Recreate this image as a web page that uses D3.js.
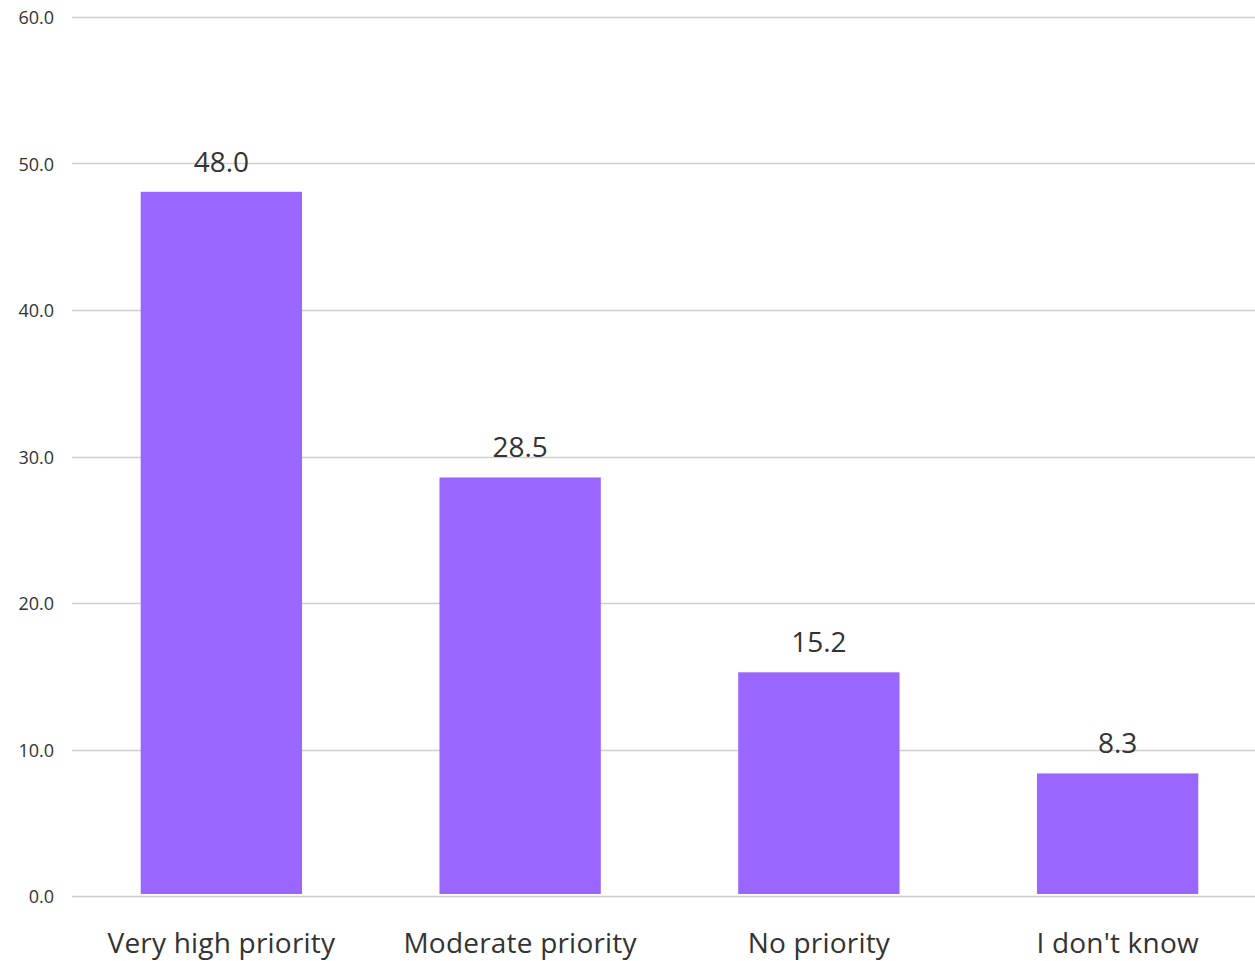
<!DOCTYPE html>
<html>
<head>
<meta charset="utf-8">
<script src="https://cdn.jsdelivr.net/npm/d3@7"></script>
<style>
  html, body { margin: 0; padding: 0; background: #fff; }
  svg { display: block; font-family: "Open Sans", "Noto Sans", sans-serif; }
</style>
</head>
<body>
<svg id="chart" width="1255" height="961"></svg>
<script>
const categories = ["Very high priority", "Moderate priority", "No priority", "I don't know"];
const values = [48.0, 28.5, 15.2, 8.3];
const valueLabels = ["48.0", "28.5", "15.2", "8.3"];
const yTicks = [0, 10, 20, 30, 40, 50, 60];

const svg = d3.select("#chart");
const plotLeft = 72, plotRight = 1267, plotTop = 17, plotBottom = 896;

const x = d3.scaleBand().domain(categories).range([plotLeft, plotRight])
  .paddingInner(0.46).paddingOuter(0.23);
const y = d3.scaleLinear().domain([0, 60]).range([plotBottom, plotTop]);

// gridlines
svg.append("g").selectAll("line").data(yTicks).join("line")
  .attr("x1", plotLeft).attr("x2", 1255)
  .attr("y1", d => Math.round(y(d)) + 0.5).attr("y2", d => Math.round(y(d)) + 0.5)
  .attr("stroke", "#cfcfcf").attr("stroke-width", 1.5);

// y tick labels
svg.append("g").selectAll("text").data(yTicks).join("text")
  .attr("x", 54).attr("y", d => y(d) + 1).attr("dy", "0.35em")
  .attr("text-anchor", "end").attr("font-size", 18).attr("fill", "#333")
  .text(d => d.toFixed(1));

// bars
svg.append("g").selectAll("rect").data(values).join("rect")
  .attr("x", (d, i) => x(categories[i]))
  .attr("width", x.bandwidth())
  .attr("y", d => y(d) - 1)
  .attr("height", d => plotBottom - 1 - y(d))
  .attr("fill", "#9966ff");

// value labels
svg.append("g").selectAll("text").data(values).join("text")
  .attr("x", (d, i) => x(categories[i]) + x.bandwidth() / 2)
  .attr("y", d => y(d) - 21)
  .attr("text-anchor", "middle").attr("font-size", 28).attr("fill", "#333")
  .text((d, i) => valueLabels[i]);

// category labels
svg.append("g").selectAll("text").data(categories).join("text")
  .attr("x", d => x(d) + x.bandwidth() / 2)
  .attr("y", 953)
  .attr("text-anchor", "middle").attr("font-size", 28).attr("letter-spacing", 0.2).attr("fill", "#333")
  .text(d => d);
</script>
</body>
</html>
